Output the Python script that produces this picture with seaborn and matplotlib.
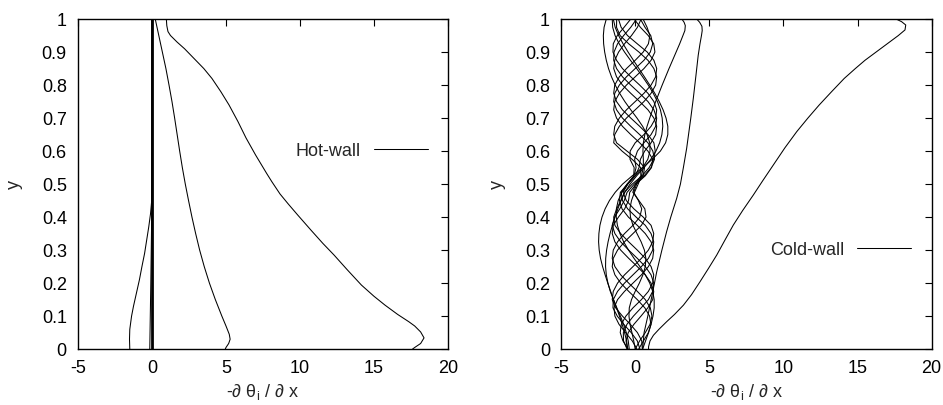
import numpy as np
import pandas as pd
import matplotlib
matplotlib.use("Agg")
import matplotlib.pyplot as plt
import seaborn as sns

# ---------------- Hot wall profiles (x = -dtheta/dx, y = height) ----------------
hot_a_y = [0.0, 0.005, 0.017, 0.034, 0.052, 0.07, 0.083, 0.105, 0.133, 0.16, 0.194,
           0.24, 0.285, 0.32, 0.36, 0.406, 0.44, 0.47, 0.507, 0.532, 0.588, 0.64,
           0.69, 0.74, 0.78, 0.82, 0.85, 0.88, 0.91, 0.93, 0.95, 0.962, 0.98, 1.0]
hot_a_x = [17.6, 17.75, 18.15, 18.38, 18.15, 17.75, 17.35, 16.6, 15.75, 15.0, 14.15,
           13.2, 12.3, 11.55, 10.75, 9.85, 9.2, 8.65, 8.1, 7.75, 7.0, 6.35,
           5.8, 5.2, 4.65, 4.05, 3.5, 2.85, 2.2, 1.7, 1.25, 1.08, 1.0, 0.97]

hot_b_y = [0.0, 0.005, 0.017, 0.03, 0.045, 0.07, 0.1, 0.15, 0.2, 0.25, 0.3, 0.35,
           0.4, 0.45, 0.5, 0.55, 0.6, 0.65, 0.7, 0.75, 0.8, 0.85, 0.9, 0.95, 1.0]
hot_b_x = [4.95, 5.0, 5.18, 5.28, 5.22, 5.0, 4.72, 4.28, 3.88, 3.53, 3.22, 2.95,
           2.7, 2.47, 2.25, 2.05, 1.87, 1.7, 1.53, 1.35, 1.15, 0.94, 0.7, 0.46, 0.22]

hot_c_y = [0.0, 0.03, 0.06, 0.1, 0.13, 0.17, 0.21, 0.25, 0.29, 0.33, 0.37, 0.41,
           0.45, 0.5, 0.75, 1.0]
hot_c_x = [-1.5, -1.52, -1.5, -1.38, -1.25, -1.05, -0.85, -0.68, -0.5, -0.36, -0.22,
           -0.1, -0.02, 0.0, 0.0, 0.0]

hot_d_y = [0.0, 0.2, 0.4, 0.6, 1.0]
hot_d_x = [-0.15, -0.08, -0.02, 0.0, 0.0]

hot_e_y = [0.0, 0.5, 1.0]
hot_e_x = [0.0, 0.0, 0.0]

# ---------------- Cold wall profiles ----------------
cold_main_y = [0.0, 0.007, 0.025, 0.042, 0.06, 0.083, 0.105, 0.133, 0.165, 0.204,
               0.245, 0.285, 0.33, 0.376, 0.42, 0.467, 0.51, 0.558, 0.61, 0.659,
               0.70, 0.739, 0.78, 0.82, 0.85, 0.875, 0.905, 0.93, 0.95, 0.967,
               0.982, 0.992, 1.0]
cold_main_x = [0.9, 0.9, 1.0, 1.23, 1.6, 2.12, 2.65, 3.25, 3.8, 4.37,
               4.95, 5.5, 6.05, 6.62, 7.25, 7.97, 8.6, 9.32, 10.1, 10.9,
               11.65, 12.4, 13.25, 14.1, 14.85, 15.5, 16.4, 17.15, 17.75, 18.2,
               18.25, 17.97, 17.6]

cold_d_y = [0.0, 0.05, 0.1, 0.133, 0.2, 0.234, 0.3, 0.356, 0.4, 0.457, 0.5, 0.55,
            0.608, 0.7, 0.76, 0.83, 0.89, 0.925, 0.95, 0.965, 0.978, 0.99, 1.0]
cold_d_x = [0.5, 0.6, 0.85, 1.0, 1.3, 1.45, 1.8, 2.12, 2.4, 2.8, 3.05, 3.25,
            3.47, 3.75, 3.92, 4.1, 4.25, 4.37, 4.47, 4.52, 4.5, 4.35, 4.15]

cold_e_y = [0.0, 0.025, 0.05, 0.075, 0.1, 0.125, 0.15, 0.175, 0.2, 0.225, 0.25,
            0.275, 0.3, 0.325, 0.35, 0.375, 0.4, 0.425, 0.45, 0.475, 0.5, 0.525,
            0.55, 0.575, 0.6, 0.625, 0.65, 0.675, 0.7, 0.725, 0.75, 0.775, 0.8,
            0.825, 0.85, 0.875, 0.9, 0.925, 0.95, 0.965, 0.98, 0.99, 1.0]
cold_e_x = [0.0, -0.1, -0.22, -0.35, -0.42, -0.4, -0.25, 0.0, 0.28, 0.52, 0.68,
            0.72, 0.62, 0.4, 0.12, -0.15, -0.32, -0.36, -0.25, -0.05, 0.2, 0.42,
            0.55, 0.55, 0.52, 0.55, 0.65, 0.8, 0.98, 1.17, 1.38, 1.6, 1.82,
            2.05, 2.28, 2.52, 2.76, 3.0, 3.22, 3.35, 3.38, 3.3, 3.15]

# Slow, wide snapshots, sampled every 0.025 in y
wide_y = np.linspace(0.0, 1.0, 41)
cold_w1_x = [-0.5, -0.58, -0.72, -0.88, -1.06, -1.26, -1.46, -1.66, -1.85, -2.03,
             -2.2, -2.34, -2.43, -2.47, -2.45, -2.38, -2.24, -2.03, -1.74, -1.35,
             -0.85, -0.2, 0.5, 1.15, 1.7, 2.05, 2.2, 2.2, 2.08, 1.88,
             1.62, 1.32, 0.98, 0.62, 0.25, -0.12, -0.48, -0.82, -1.12, -1.35, -1.48]
cold_w2_x = [-0.4, -0.47, -0.6, -0.78, -1.0, -1.24, -1.47, -1.68, -1.84, -1.95,
             -2.0, -1.99, -1.93, -1.83, -1.7, -1.54, -1.36, -1.17, -0.96, -0.7,
             -0.35, 0.1, 0.6, 1.05, 1.4, 1.65, 1.8, 1.86, 1.82, 1.7,
             1.5, 1.22, 0.88, 0.5, 0.1, -0.32, -0.72, -1.08, -1.36, -1.52, -1.55]
cold_w3_x = [0.5, 0.7, 0.9, 1.07, 1.2, 1.28, 1.28, 1.18, 0.98, 0.68,
             0.32, -0.08, -0.45, -0.78, -1.03, -1.2, -1.28, -1.27, -1.15, -0.9,
             -0.5, 0.0, 0.5, 0.85, 1.0, 0.98, 0.8, 0.5, 0.12, -0.3,
             -0.7, -1.05, -1.35, -1.6, -1.8, -1.95, -2.06, -2.13, -2.15, -2.1, -1.95]

# Oscillating snapshots, sampled every 0.025 in y
braid_y = np.linspace(0.0, 1.0, 41)
braid_1 = [0.0, 0.30, 0.68, 1.00, 1.13, 1.02, 0.68, 0.14, -0.44, -0.98, -1.37,
           -1.55, -1.48, -1.19, -0.72, -0.15, 0.31, 0.44, 0.22, -0.10, 0.10, 0.54,
           0.63, 0.15, -0.56, -1.26, -1.45, -1.38, -1.07, -0.59, 0.0, 0.59, 1.07,
           1.38, 1.45, 1.26, 0.81, 0.14, -0.52, -0.95, -1.13]
braid_2 = [0.23, 0.56, 0.89, 1.06, 0.97, 0.65, 0.14, -0.44, -0.98, -1.37, -1.55,
           -1.48, -1.19, -0.72, -0.15, 0.42, 0.73, 0.65, 0.25, -0.16, 0.01, 0.38,
           0.37, -0.21, -0.89, -1.45, -1.38, -1.07, -0.59, 0.0, 0.59, 1.07, 1.38,
           1.45, 1.26, 0.86, 0.25, -0.44, -1.02, -1.26, -1.25]
braid_3 = [0.48, 0.44, 0.15, -0.33, -0.86, -1.32, -1.55, -1.48, -1.19, -0.72, -0.15,
           0.42, 0.89, 1.18, 1.25, 1.07, 0.54, -0.09, -0.60, -0.82, -0.50, -0.10,
           -0.07, -0.35, -0.34, 0.0, 0.59, 1.07, 1.38, 1.45, 1.26, 0.86, 0.30,
           -0.30, -0.86, -1.26, -1.50, -1.48, -1.21, -0.75, -0.30]
braid_4 = [0.32, 0.14, -0.27, -0.77, -1.21, -1.50, -1.48, -1.19, -0.72, -0.15, 0.42,
           0.89, 1.18, 1.25, 1.07, 0.68, 0.06, -0.51, -0.86, -0.94, -0.55, -0.08,
           0.06, -0.04, 0.15, 0.59, 1.07, 1.38, 1.45, 1.26, 0.86, 0.30, -0.30,
           -0.86, -1.26, -1.45, -1.43, -1.19, -0.78, -0.30, 0.09]
braid_5 = [0.12, -0.20, -0.65, -1.09, -1.37, -1.43, -1.19, -0.72, -0.15, 0.42, 0.89,
           1.18, 1.25, 1.07, 0.68, 0.14, -0.46, -0.89, -1.06, -1.00, -0.53, 0.0,
           0.26, 0.35, 0.64, 1.07, 1.38, 1.45, 1.26, 0.86, 0.30, -0.30, -0.86,
           -1.26, -1.45, -1.38, -1.12, -0.72, -0.25, 0.15, 0.40]
braid_6 = [-0.48, -0.83, -1.01, -0.94, -0.63, -0.15, 0.42, 0.89, 1.18, 1.25, 1.07,
           0.68, 0.14, -0.44, -0.98, -1.37, -1.45, -1.25, -0.97, -0.73, -0.20, 0.46,
           0.94, 1.25, 1.35, 1.26, 0.86, 0.30, -0.30, -0.86, -1.26, -1.45, -1.38,
           -1.07, -0.59, 0.0, 0.54, 0.89, 0.99, 0.80, 0.53]
braid_7 = [-0.55, -0.79, -0.80, -0.56, -0.12, 0.40, 0.89, 1.18, 1.25, 1.07, 0.68,
           0.14, -0.44, -0.98, -1.37, -1.55, -1.39, -1.04, -0.74, -0.55, -0.06, 0.60,
           1.07, 1.30, 1.19, 0.86, 0.30, -0.30, -0.86, -1.26, -1.45, -1.38, -1.07,
           -0.59, 0.0, 0.59, 1.02, 1.18, 1.05, 0.66, 0.35]
braid_8 = [-0.52, -0.62, -0.47, -0.09, 0.39, 0.85, 1.18, 1.25, 1.07, 0.68, 0.14,
           -0.44, -0.98, -1.37, -1.55, -1.48, -1.13, -0.71, -0.45, -0.37, 0.06, 0.68,
           1.10, 1.18, 0.86, 0.30, -0.30, -0.86, -1.26, -1.45, -1.38, -1.07, -0.59,
           0.0, 0.59, 1.07, 1.33, 1.25, 0.88, 0.35, -0.07]

x_ticks = [-5, 0, 5, 10, 15, 20]
y_ticks = [0, 0.1, 0.2, 0.3, 0.4, 0.5, 0.6, 0.7, 0.8, 0.9, 1]
y_tick_labels = ["0", "0.1", "0.2", "0.3", "0.4", "0.5", "0.6", "0.7", "0.8", "0.9", "1"]
x_label = "-\u2202 \u03b8$_\\mathregular{i}$ / \u2202 x"

LW = 0.75
hot_curves = [(hot_a_x, hot_a_y, LW), (hot_b_x, hot_b_y, LW), (hot_c_x, hot_c_y, LW),
              (hot_d_x, hot_d_y, LW), (hot_e_x, hot_e_y, 2.0)]
cold_curves = [(cold_main_x, cold_main_y), (cold_d_x, cold_d_y), (cold_e_x, cold_e_y),
               (cold_w1_x, wide_y), (cold_w2_x, wide_y), (cold_w3_x, wide_y)]
cold_curves += [(b, braid_y) for b in (braid_1, braid_2, braid_3, braid_4,
                                       braid_5, braid_6, braid_7, braid_8)]

sns.set_theme(style="white")
plt.rcParams["font.family"] = ["Liberation Sans", "DejaVu Sans"]
plt.rcParams["mathtext.fontset"] = "custom"
plt.rcParams["mathtext.rm"] = "Liberation Sans"

FS = 13
fig = plt.figure(figsize=(9.43, 4.05), dpi=100)
ax_hot = fig.add_axes([0.0827, 0.138, 0.3924, 0.815])
ax_cold = fig.add_axes([0.595, 0.138, 0.393, 0.815])


def draw(ax, curves, label, legend_y):
    for i, c in enumerate(curves):
        xs, ys = c[0], c[1]
        lw = c[2] if len(c) > 2 else LW
        df = pd.DataFrame({"x": list(xs), "y": list(ys)})
        sns.lineplot(data=df, x="x", y="y", sort=False, estimator=None,
                     color="black", linewidth=lw, ax=ax, legend=False)
    ax.set_xlim(-5, 20)
    ax.set_ylim(0, 1)
    ax.set_xticks(x_ticks)
    ax.set_xticklabels([str(t) for t in x_ticks])
    ax.set_yticks(y_ticks)
    ax.set_yticklabels(y_tick_labels)
    ax.tick_params(direction="in", length=5, width=0.8, top=True, right=True,
                   labelsize=FS, colors="black", pad=8)
    for s in ax.spines.values():
        s.set_color("black")
        s.set_linewidth(1.0)
    ax.set_xlabel(x_label, fontsize=FS)
    ax.xaxis.set_label_coords(0.5, -0.1)
    ax.set_ylabel("y", fontsize=FS, va="center")
    ax.yaxis.set_label_coords(-0.172, 0.5)
    handle = ax.get_lines()[0]
    ax.legend([handle], [label], loc="center right", bbox_to_anchor=(0.945, legend_y),
              frameon=False, markerfirst=False, handlelength=3.0,
              handletextpad=0.7, borderpad=0, borderaxespad=0, fontsize=FS)


draw(ax_hot, hot_curves, "Hot-wall", 0.6)
draw(ax_cold, cold_curves, "Cold-wall", 0.3)

fig.savefig("out.png", dpi=100)
